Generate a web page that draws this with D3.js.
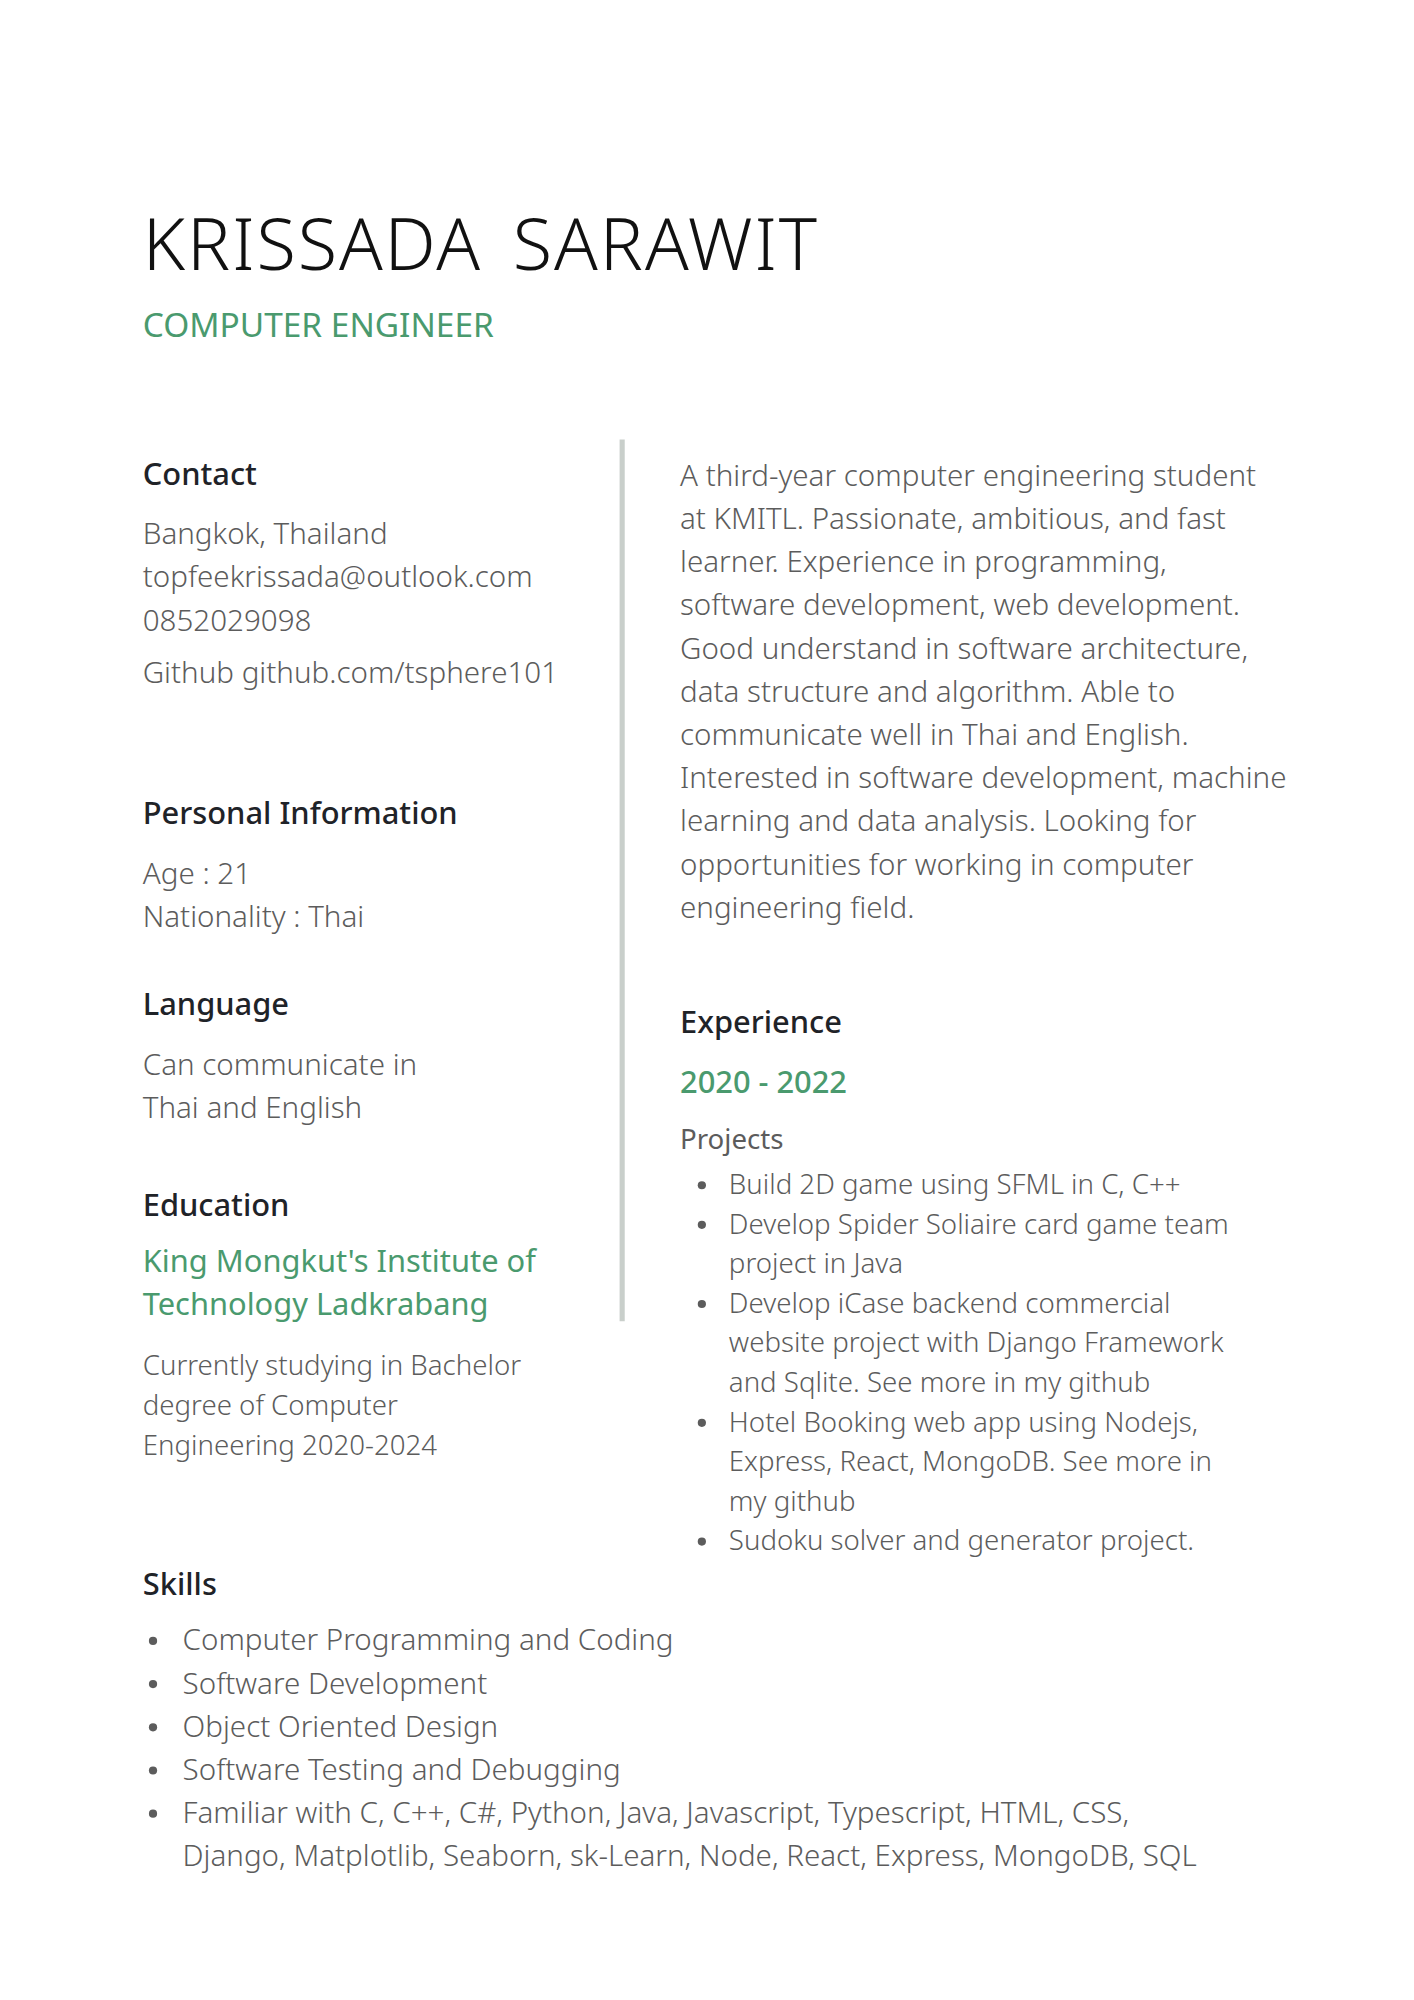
<!DOCTYPE html>
<html><head><meta charset="utf-8">
<script src="https://cdn.jsdelivr.net/npm/d3@7"></script>
<style>body{margin:0;background:#fff}</style></head>
<body><svg id="c" width="1414" height="2000" viewBox="0 0 1100 1556"></svg>
<script>
const name = "KRISSADA SARAWIT";
const role = "COMPUTER ENGINEER";
const contact = ["Bangkok, Thailand","topfeekrissada@outlook.com","0852029098","Github github.com/tsphere101"];
const personal = ["Age : 21","Nationality : Thai"];
const language = ["Can communicate in","Thai and English"];
const school = ["King Mongkut's Institute of","Technology Ladkrabang"];
const eduText = ["Currently studying in Bachelor","degree of Computer","Engineering 2020-2024"];
const summary = ["A third-year computer engineering student","at KMITL. Passionate, ambitious, and fast","learner. Experience in programming,","software development, web development.","Good understand in software architecture,","data structure and algorithm. Able to","communicate well in Thai and English.","Interested in software development, machine","learning and data analysis. Looking for","opportunities for working in computer","engineering field."];
const projects = [["Build 2D game using SFML in C, C++"],["Develop Spider Soliaire card game team","project in Java"],["Develop iCase backend commercial","website project with Django Framework","and Sqlite. See more in my github"],["Hotel Booking web app using Nodejs,","Express, React, MongoDB. See more in","my github"],["Sudoku solver and generator project."]];
const skills = [["Computer Programming and Coding"],["Software Development"],["Object Oriented Design"],["Software Testing and Debugging"],["Familiar with C, C++, C#, Python, Java, Javascript, Typescript, HTML, CSS,","Django, Matplotlib, Seaborn, sk-Learn, Node, React, Express, MongoDB, SQL"]];

const svg = d3.select("#c");
const F = "'Noto Sans', 'Open Sans', sans-serif";
const grey = "#5c5c5c", dark = "#1f2328", green = "#4a9a6e";
function txt(x,y,s,size,col,w,extra){
  const t = svg.append("text").attr("x",x).attr("y",y).text(s).attr("font-family",F)
    .attr("font-size",size).attr("fill",col).attr("font-weight",w||400);
  if(extra) extra(t); return t;
}
function lines(x,y0,arr,size,col,lh,w){ arr.forEach((s,i)=>txt(x,y0+i*lh,s,size,col,w)); }
function bullets(bx,tx,y0,items,size,lh){
  let y=y0;
  items.forEach(it=>{
    svg.append("circle").attr("cx",bx).attr("cy",y-size*0.32).attr("r",3.2).attr("fill",grey);
    it.forEach(s=>{ txt(tx,y,s,size,grey,300); y+=lh; });
  });
}
txt(111,210,name,56,"#111",300,t=>t.attr("letter-spacing",1.5).attr("word-spacing",8));
txt(111,262,role,26,green,400);
svg.append("line").attr("x1",484).attr("x2",484).attr("y1",342).attr("y2",1028).attr("stroke","#c9cfcb").attr("stroke-width",4);

txt(111,377,"Contact",24,dark,500);
lines(111,423,contact.slice(0,3),23,grey,33.8,300);
txt(111,531,contact[3],23,grey,300);
txt(111,641,"Personal Information",24,dark,500);
lines(111,688,personal,23,grey,33.5,300);
txt(111,790,"Language",24,dark,500);
lines(111,836,language,23,grey,33.5,300);
txt(111,946,"Education",24,dark,500);
lines(111,990,school,24,green,33,400);
lines(111,1070,eduText,21.5,grey,31,300);

lines(529,378,summary,23,grey,33.6,300);
txt(529,804,"Experience",24,dark,500);
txt(529,850,"2020 - 2022",24,green,500);
txt(529,894,"Projects",21.5,grey,400);
bullets(546,567,929,projects,21.5,30.8);

txt(111,1241,"Skills",24,dark,500);
bullets(119,142,1284,skills,23,33.6);
</script></body></html>
